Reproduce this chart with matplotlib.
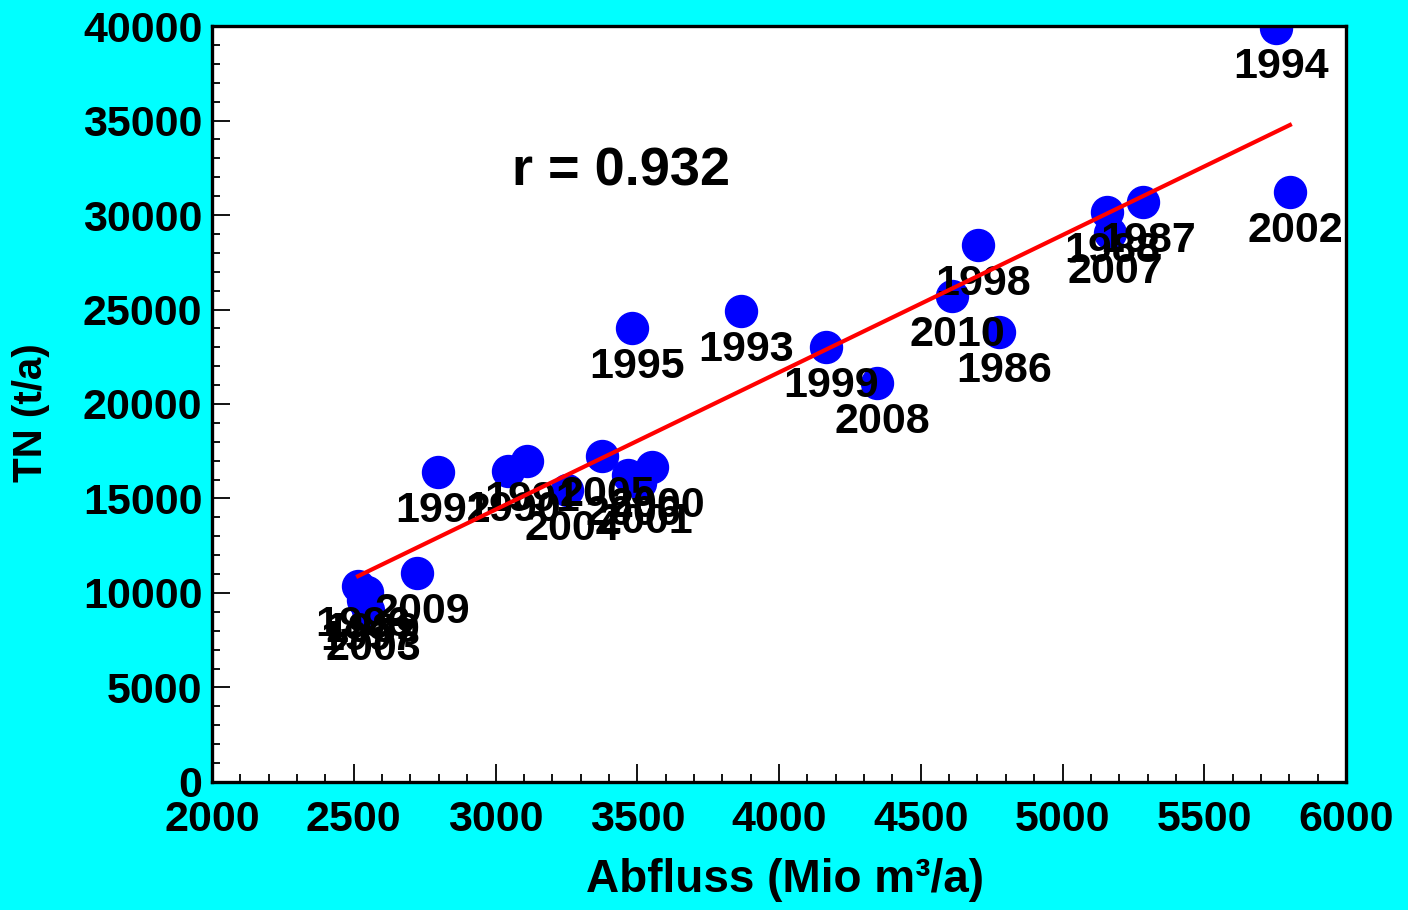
import numpy as np
import matplotlib.pyplot as plt
from matplotlib.ticker import MultipleLocator

plt.rcParams['font.family'] = ['Liberation Sans', 'DejaVu Sans']
plt.rcParams['font.weight'] = 'bold'

years = [1986, 1987, 1988, 1989, 1990, 1991, 1992, 1993, 1994, 1995,
         1996, 1997, 1998, 1999, 2000, 2001, 2002, 2003, 2004, 2005,
         2006, 2007, 2008, 2009, 2010]

abfluss = [4776, 5284, 5157, 2547, 3044, 3111, 2797, 3866, 5753, 3481,
           2515, 2533, 4702, 4166, 3552, 3510, 5802, 2550, 3252, 3376,
           3467, 5168, 4346, 2723, 4610]

tn = [23810, 30690, 30160, 10050, 16450, 16980, 16400, 24920, 39900, 24020,
      10370, 9630, 28410, 23020, 16670, 15820, 31220, 9100, 15450, 17250,
      16240, 29050, 21110, 11060, 25710]

r_value = 0.932

fig = plt.figure(figsize=(14.08, 9.1), dpi=100)
fig.patch.set_facecolor('#00FFFF')
ax = fig.add_axes([0.1506, 0.1407, 0.8054, 0.8307])
ax.set_facecolor('white')

ax.scatter(abfluss, tn, s=530, color='#0000FF', zorder=2)

for yr, xv, yv in zip(years, abfluss, tn):
    ax.annotate(str(yr), (xv, yv), xytext=(5, -39), textcoords='offset pixels',
                ha='center', va='center', fontsize=31, fontweight='bold',
                color='black', zorder=3)

# linear fit
k, d = np.polyfit(abfluss, tn, 1)
xs = np.array([min(abfluss), max(abfluss)])
ax.plot(xs, k * xs + d, color='red', lw=3, zorder=4)

ax.text(3443, 32300, f"r = {r_value}", ha='center', va='center',
        fontsize=39, fontweight='bold')

ax.set_xlim(2000, 6000)
ax.set_ylim(0, 40000)
ax.xaxis.set_major_locator(MultipleLocator(500))
ax.xaxis.set_minor_locator(MultipleLocator(100))
ax.yaxis.set_major_locator(MultipleLocator(5000))
ax.yaxis.set_minor_locator(MultipleLocator(1000))

ax.tick_params(which='both', direction='in', top=False, right=False,
               colors='black', width=1.3)
ax.tick_params(which='major', length=13, labelsize=31)
ax.tick_params(axis='x', which='major', pad=13)
ax.tick_params(axis='y', which='major', pad=7)
ax.tick_params(which='minor', length=6)

for sp in ax.spines.values():
    sp.set_linewidth(2.4)

ax.set_xlabel("Abfluss (Mio m³/a)", fontsize=33, fontweight='bold')
ax.set_ylabel("TN (t/a)", fontsize=29, fontweight='bold')
ax.xaxis.set_label_coords(0.505, -0.10)
ax.yaxis.set_label_coords(-0.143, 0.488)

fig.savefig("out.png", dpi=100, facecolor=fig.get_facecolor())
